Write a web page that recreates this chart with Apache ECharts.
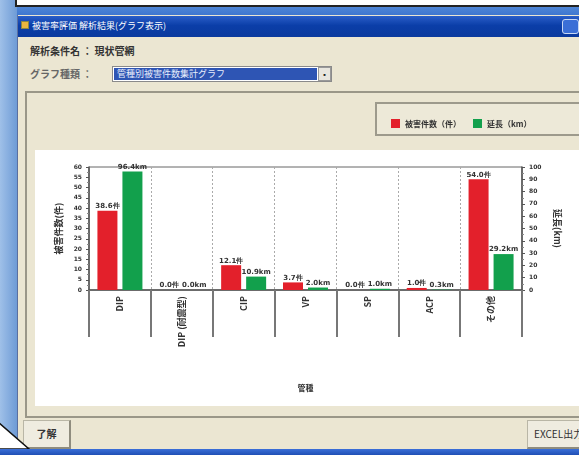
<!DOCTYPE html>
<html><head><meta charset="utf-8">
<script src="https://cdn.jsdelivr.net/npm/echarts@6/dist/echarts.min.js"></script>
<style>
html,body{margin:0;padding:0;width:579px;height:455px;overflow:hidden;background:#7fa8da;font-family:"Noto Sans CJK JP","Noto Sans",sans-serif;}
.abs{position:absolute;box-sizing:border-box;}
#chart{position:absolute;left:0;top:0;width:579px;height:455px;}
</style></head><body>
<div class="abs" style="left:0;top:0;width:17px;height:455px;background:linear-gradient(90deg,#9fc0e8,#6e9bd6);"></div>
<div class="abs" style="left:15px;top:-3px;width:570px;height:10px;background:#fff;border:2px solid #222;"></div>
<div class="abs" style="left:17px;top:7px;width:562px;height:10px;background:linear-gradient(180deg,#4f86d6,#3a73cf);"></div>
<div class="abs" style="left:17px;top:15px;width:562px;height:440px;background:#ebe6d2;border-left:1px solid #5a6fa0;"></div>
<div class="abs" style="left:18px;top:16px;width:561px;height:21px;background:linear-gradient(180deg,#2a5ec8 0%,#0b3ea8 45%,#0a3a9e 100%);"></div>
<div class="abs" style="left:21px;top:21px;width:8px;height:8px;background:#e9b640;border:1px solid #884;"></div>
<div class="abs" style="left:32px;top:19px;color:#fff;font-size:9px;line-height:14px;">被害率評価 解析結果(グラフ表示)</div>
<div class="abs" style="left:562px;top:19px;width:17px;height:15px;background:#3b6fd6;border:1px solid #c8d8f4;border-radius:3px;"></div>
<div class="abs" style="left:30px;top:43px;color:#333;font-size:10px;line-height:16px;font-weight:bold;">解析条件名 ： 現状管網</div>
<div class="abs" style="left:30px;top:66px;color:#666;font-size:10px;line-height:16px;font-weight:bold;">グラフ種類 ：</div>
<div class="abs" style="left:112px;top:66px;width:220px;height:16px;background:#fff;border:1px solid #8a8a8a;"></div>
<div class="abs" style="left:114px;top:68px;width:203px;height:12px;background:#2e55b4;color:#e8eefc;font-size:9px;line-height:12px;padding-left:3px;">管種別被害件数集計グラフ</div>
<div class="abs" style="left:318px;top:67px;width:13px;height:14px;background:#e8e6de;border:1px solid #999;font-size:7px;line-height:12px;text-align:center;color:#222;">▪</div>
<div class="abs" style="left:25px;top:91px;width:560px;height:327px;border:2px solid #9a9788;border-right:none;"></div>
<div class="abs" style="left:375px;top:102px;width:210px;height:34px;border:2px solid #9d9a8c;border-right:none;background:#edE9d8;"></div>
<div class="abs" style="left:35px;top:150px;width:544px;height:256px;background:#fff;"></div>
<div class="abs" style="left:23px;top:420px;width:48px;height:29px;border:1px solid #b9b6a6;border-bottom:2px solid #8f8c7e;border-right:2px solid #8f8c7e;background:#efece0;color:#333;font-size:10px;line-height:26px;text-align:center;font-weight:bold;">了解</div>
<div class="abs" style="left:527px;top:420px;width:60px;height:29px;border:1px solid #b9b6a6;border-bottom:2px solid #8f8c7e;background:#efece0;color:#333;font-size:10px;line-height:26px;padding-left:6px;">EXCEL出力</div>
<svg class="abs" style="left:0;top:418px" width="40" height="37"><polygon points="-2,4 29,31 -2,31" fill="#fff" stroke="#111" stroke-width="1.5"/></svg>
<div class="abs" style="left:0;top:449px;width:579px;height:6px;background:linear-gradient(180deg,#3a6fd8,#1f4fb5);"></div>
<div id="chart"></div>
<script>
const categories = ['DIP', 'DIP (耐震型)', 'CIP', 'VP', 'SP', 'ACP', 'その他'];
const damageCount = [38.6, 0.0, 12.1, 3.7, 0.0, 1.0, 54.0];
const lengthKm = [96.4, 0.0, 10.9, 2.0, 1.0, 0.3, 29.2];
const seriesNames = ['被害件数（件）', '延長（km）'];

const chart = echarts.init(document.getElementById('chart'));
const lblStyle = {show: true, position: 'top', distance: 1, fontSize: 7, fontWeight: 'bold', color: '#333', fontFamily: 'DejaVu Sans'};
chart.setOption({
  animation: false,
  legend: {
    left: 386, top: 114, itemWidth: 9, itemHeight: 9, itemGap: 12,
    icon: 'rect',
    textStyle: {fontSize: 8, color: '#333', fontWeight: 'bold', fontFamily: 'Noto Sans CJK JP'},
    data: seriesNames
  },
  grid: {left: 89, right: 57, top: 167, bottom: 165, show: true, borderColor: '#666', borderWidth: 1},
  xAxis: {
    type: 'category', data: categories,
    name: '管種', nameLocation: 'middle', nameGap: 94,
    nameTextStyle: {fontSize: 8, color: '#333', fontFamily: 'Noto Sans CJK JP', fontWeight: 'bold'},
    axisLine: {lineStyle: {color: '#555', width: 1.5}},
    axisTick: {show: true, interval: 0, length: 47, lineStyle: {color: '#777', width: 2}},
    axisLabel: {rotate: 90, interval: 0, fontSize: 9, color: '#333', margin: 6, fontWeight: 'bold', fontFamily: 'Noto Sans CJK JP'},
    splitLine: {show: true, interval: 0, lineStyle: {color: '#aaa', type: [2, 2], width: 1}}
  },
  yAxis: [{
    type: 'value', min: 0, max: 60, interval: 5,
    name: '被害件数(件)', nameLocation: 'middle', nameGap: 24, nameRotate: 90,
    nameTextStyle: {fontSize: 9, color: '#333', fontWeight: 'bold', fontFamily: 'Noto Sans CJK JP'},
    axisLine: {show: true, lineStyle: {color: '#555', width: 1.5}},
    axisTick: {show: true, length: 3, lineStyle: {color: '#555'}},
    minorTick: {show: true, splitNumber: 2, length: 2, lineStyle: {color: '#888'}},
    axisLabel: {fontSize: 6, color: '#333', margin: 7, fontWeight: 'bold', fontFamily: 'DejaVu Sans'},
    splitLine: {show: false}
  }, {
    type: 'value', min: 0, max: 100, interval: 10, position: 'right',
    name: '延長(km)', nameLocation: 'middle', nameGap: 27, nameRotate: -90,
    nameTextStyle: {fontSize: 9, color: '#333', fontWeight: 'bold', fontFamily: 'Noto Sans CJK JP'},
    axisLine: {show: true, lineStyle: {color: '#555', width: 1.5}},
    axisTick: {show: true, length: 3, lineStyle: {color: '#555'}},
    minorTick: {show: true, splitNumber: 2, length: 2, lineStyle: {color: '#888'}},
    axisLabel: {fontSize: 6, color: '#333', margin: 7, fontWeight: 'bold', fontFamily: 'DejaVu Sans'},
    splitLine: {show: false}
  }],
  series: [{
    name: seriesNames[0], type: 'bar', yAxisIndex: 0, data: damageCount,
    barWidth: 20, barGap: '25%',
    itemStyle: {color: '#e3202b'},
    label: Object.assign({}, lblStyle, {formatter: p => p.value.toFixed(1) + '件'})
  }, {
    name: seriesNames[1], type: 'bar', yAxisIndex: 1, data: lengthKm,
    barWidth: 20,
    itemStyle: {color: '#12a04c'},
    label: Object.assign({}, lblStyle, {formatter: p => p.value.toFixed(1) + 'km'})
  }]
});
</script>
</body></html>
